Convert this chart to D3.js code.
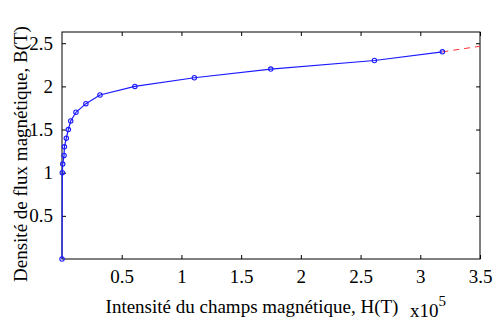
<!DOCTYPE html>
<html>
<head>
<meta charset="utf-8">
<script src="https://cdn.jsdelivr.net/npm/d3@7"></script>
<style>
  html, body { margin: 0; padding: 0; background: #fff; }
  svg text { font-family: "Liberation Serif", "Times New Roman", serif; fill: #000; }
</style>
</head>
<body>
<svg id="chart" width="493" height="323"></svg>
<script>
// B-H curve points (H in units of 1e5, B in tesla)
const hValues = [0, 0.0025, 0.006, 0.017, 0.02, 0.036, 0.053, 0.073, 0.117, 0.2, 0.318, 0.61, 1.108, 1.748, 2.616, 3.185];
const bValues = [0, 1.0, 1.1, 1.2, 1.3, 1.4, 1.5, 1.6, 1.7, 1.8, 1.9, 2.0, 2.1, 2.2, 2.3, 2.4];
// dashed extrapolation
const extH = [3.185, 3.5];
const extB = [2.4, 2.465];

const xTicks = [0.5, 1, 1.5, 2, 2.5, 3, 3.5];
const yTicks = [0.5, 1, 1.5, 2, 2.5];

const m = { left: 62, right: 480, top: 32, bottom: 259 };
const fontSize = "19px";
const svg = d3.select("#chart");

const x = d3.scaleLinear().domain([0, 3.5]).range([m.left, m.right]);
const y = d3.scaleLinear().domain([0, 2.63]).range([m.bottom, m.top]);

const pts = hValues.map((h, i) => [h, bValues[i]]);
const ext = extH.map((h, i) => [h, extB[i]]);
const line = d3.line().x(d => x(d[0])).y(d => y(d[1]));

// plot box
svg.append("rect")
  .attr("x", m.left).attr("y", m.top)
  .attr("width", m.right - m.left).attr("height", m.bottom - m.top)
  .attr("fill", "none").attr("stroke", "#000").attr("stroke-width", 1);

// axes, ticks pointing inward
const xAxis = svg.append("g").attr("transform", `translate(0,${m.bottom})`)
  .call(d3.axisBottom(x).tickValues(xTicks).tickSizeInner(-4).tickSizeOuter(0).tickPadding(11).tickFormat(d3.format("")));
const xAxisTop = svg.append("g").attr("transform", `translate(0,${m.top})`)
  .call(d3.axisTop(x).tickValues(xTicks).tickSizeInner(-4).tickSizeOuter(0).tickFormat(""));
const yAxis = svg.append("g").attr("transform", `translate(${m.left},0)`)
  .call(d3.axisLeft(y).tickValues(yTicks).tickSizeInner(-4).tickSizeOuter(0).tickPadding(9).tickFormat(d3.format("")));
const yAxisRight = svg.append("g").attr("transform", `translate(${m.right},0)`)
  .call(d3.axisRight(y).tickValues(yTicks).tickSizeInner(-4).tickSizeOuter(0).tickFormat(""));

[xAxis, xAxisTop, yAxis, yAxisRight].forEach(g => {
  g.attr("font-family", null);
  g.select(".domain").remove();
  g.selectAll("line").attr("stroke", "#000");
  g.selectAll("text").style("font-size", fontSize);
});

// curve
svg.append("path")
  .attr("d", line(ext))
  .attr("fill", "none")
  .attr("stroke", "#ff3030")
  .attr("stroke-width", 1)
  .attr("stroke-dasharray", "6,5");

svg.append("path")
  .attr("d", line(pts))
  .attr("fill", "none")
  .attr("stroke", "#1a1aff")
  .attr("stroke-width", 1.2);

svg.append("g").selectAll("circle")
  .data(pts)
  .join("circle")
  .attr("cx", d => x(d[0]))
  .attr("cy", d => y(d[1]))
  .attr("r", 2.2)
  .attr("fill", "none")
  .attr("stroke", "#1a1aff")
  .attr("stroke-width", 1.1);

// labels
svg.append("text")
  .attr("x", 252).attr("y", 313)
  .attr("text-anchor", "middle")
  .style("font-size", fontSize)
  .text("Intensité du champs magnétique, H(T)");

const exp = svg.append("text")
  .attr("x", 410).attr("y", 317)
  .style("font-size", fontSize);
exp.append("tspan").text("x10");
exp.append("tspan").attr("dy", -11).style("font-size", "15px").text("5");

svg.append("text")
  .attr("transform", `translate(27,154) rotate(-90)`)
  .attr("text-anchor", "middle")
  .style("font-size", fontSize)
  .text("Densité de flux magnétique, B(T)");
</script>
</body>
</html>
